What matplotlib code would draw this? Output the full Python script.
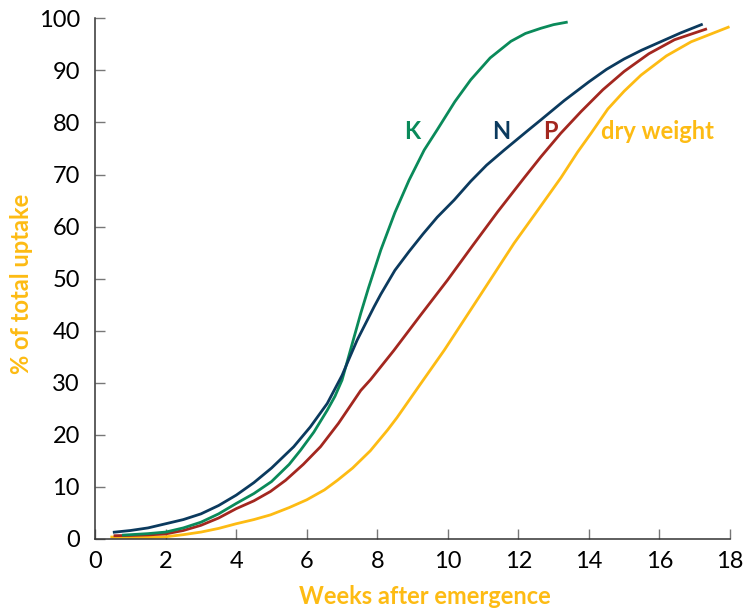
import matplotlib
matplotlib.use("Agg")
import matplotlib.pyplot as plt

# weeks after emergence / % of total uptake
k_weeks = [0.76, 1, 1.5, 2, 2.5, 3, 3.5, 4, 4.5, 5.0, 5.5, 5.82, 6.2, 6.58, 6.8, 7.0, 7.24, 7.53,
           7.75, 8.1, 8.5, 8.9, 9.33, 9.7, 10.2, 10.65, 11.2, 11.79, 12.2, 12.64, 13.0, 13.4]
k_pct = [0.7, 0.8, 1.0, 1.3, 2.1, 3.2, 4.8, 6.8, 8.7, 11.0, 14.3, 17, 20.5, 24.7, 27.4, 30.5, 36.3, 43.3,
         48.2, 55.5, 62.7, 68.9, 74.7, 78.6, 84.0, 88.2, 92.4, 95.6, 97.1, 98.1, 98.8, 99.3]

n_weeks = [0.5, 1, 1.5, 2, 2.5, 3, 3.5, 4, 4.5, 5, 5.63, 6.1, 6.58, 7.0, 7.2, 7.43, 7.91, 8.1, 8.5,
           8.9, 9.3, 9.7, 10.18, 10.65, 11.1, 11.6, 12.26, 12.64, 13.3, 14.0, 14.5, 15.0, 15.5, 16.0, 16.6, 17.23]
n_pct = [1.25, 1.6, 2.1, 2.9, 3.7, 4.8, 6.4, 8.4, 10.8, 13.6, 17.7, 21.5, 26, 31.4, 34.6, 38.2, 44.6, 47.0, 51.6,
         55.2, 58.6, 61.8, 65.1, 68.7, 71.8, 74.7, 78.4, 80.5, 84.2, 87.8, 90.2, 92.2, 93.9, 95.4, 97.2, 98.9]

p_weeks = [0.52, 1, 1.5, 2, 2.5, 3, 3.5, 4, 4.5, 4.97, 5.4, 5.9, 6.39, 6.9, 7.3, 7.53, 7.81, 8.47, 9.23,
           9.99, 10.7, 11.41, 12.17, 12.64, 13.2, 13.78, 14.4, 15.0, 15.7, 16.43, 17.35]
p_pct = [0.6, 0.65, 0.75, 0.95, 1.6, 2.6, 4.0, 5.8, 7.3, 9.1, 11.25, 14.3, 17.7, 22.2, 26.2, 28.5, 30.6, 36.2, 43,
         49.7, 56.3, 62.8, 69.4, 73.4, 77.9, 82.1, 86.3, 89.8, 93.2, 95.9, 98]

dw_weeks = [0.43, 1, 1.5, 2, 2.5, 3, 3.5, 4, 4.5, 4.97, 5.5, 6, 6.5, 6.87, 7.3, 7.8, 8.29, 8.56, 9.23,
            9.9, 10.9, 11.88, 12.6, 13.21, 13.68, 14.06, 14.54, 15.0, 15.48, 16.2, 16.9, 17.99]
dw_pct = [0.35, 0.3, 0.3, 0.4, 0.8, 1.3, 2.0, 2.9, 3.7, 4.6, 6.0, 7.5, 9.4, 11.25, 13.6, 16.9, 20.9, 23.3, 29.8,
          36.25, 46.6, 56.8, 63.6, 69.4, 74.3, 77.9, 82.6, 86.0, 89.1, 92.8, 95.5, 98.4]

ORANGE = "#FDBB13"
GREEN = "#0A8A5A"
NAVY = "#0B3A5E"
RED = "#A3271F"

plt.rcParams["font.family"] = ["Lato", "DejaVu Sans"]

fig = plt.figure(figsize=(7.44, 6.13), dpi=100)
ax = fig.add_axes([0.128, 0.121, 0.853, 0.849])

ax.plot(dw_weeks, dw_pct, color=ORANGE, lw=2.0, solid_capstyle="butt", solid_joinstyle="round")
ax.plot(p_weeks, p_pct, color=RED, lw=2.0, solid_capstyle="butt", solid_joinstyle="round")
ax.plot(k_weeks, k_pct, color=GREEN, lw=2.0, solid_capstyle="butt", solid_joinstyle="round")
ax.plot(n_weeks, n_pct, color=NAVY, lw=2.0, solid_capstyle="butt", solid_joinstyle="round")

lab = dict(fontsize=17, fontweight="bold", va="center")
ax.text(9.0, 78.3, "K", color=GREEN, ha="center", **lab)
ax.text(11.5, 78.3, "N", color=NAVY, ha="center", **lab)
ax.text(12.9, 78.3, "P", color=RED, ha="center", **lab)
ax.text(14.35, 78.3, "dry weight", color=ORANGE, ha="left", **lab)

ax.set_xlim(0, 18)
ax.set_ylim(0, 100)
ax.set_xticks(range(0, 19, 2))
ax.set_yticks(range(0, 101, 10))
ax.tick_params(direction="in", length=7, width=1, color="#777777", labelsize=17, pad=9)
ax.tick_params(axis="y", pad=11)
for s in ["top", "right"]:
    ax.spines[s].set_visible(False)
for s in ["left", "bottom"]:
    ax.spines[s].set_color("#333333")
    ax.spines[s].set_linewidth(1.1)

ax.set_xlabel("Weeks after emergence", color=ORANGE, fontsize=17, fontweight="bold")
ax.set_ylabel("% of total uptake", color=ORANGE, fontsize=17, fontweight="bold")
ax.xaxis.set_label_coords(0.52, -0.088)
ax.yaxis.set_label_coords(-0.098, 0.49)

fig.savefig("out.png", dpi=100)
